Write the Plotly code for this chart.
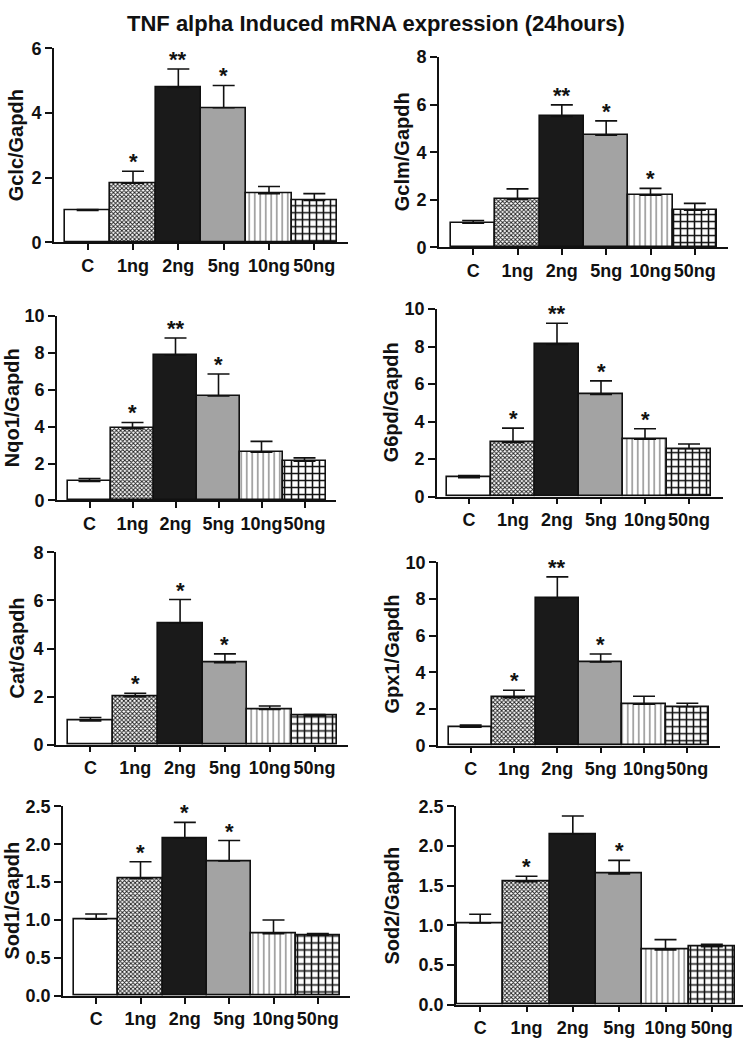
import plotly.graph_objects as go

# ---------------- data ----------------
categories = ["C", "1ng", "2ng", "5ng", "10ng", "50ng"]

gclc_mean = [0.99, 1.83, 4.79, 4.16, 1.51, 1.30]
gclc_err = [0.03, 0.37, 0.57, 0.69, 0.22, 0.21]
gclc_sig = ["", "*", "**", "*", "", ""]

gclm_mean = [1.02, 2.03, 5.50, 4.72, 2.19, 1.56]
gclm_err = [0.11, 0.43, 0.49, 0.60, 0.29, 0.29]
gclm_sig = ["", "", "**", "*", "*", ""]

nqo1_mean = [1.03, 3.91, 7.89, 5.67, 2.61, 2.13]
nqo1_err = [0.16, 0.32, 0.92, 1.19, 0.59, 0.18]
nqo1_sig = ["", "*", "**", "*", "", ""]

g6pd_mean = [1.01, 2.88, 8.11, 5.45, 3.06, 2.55]
g6pd_err = [0.11, 0.77, 1.14, 0.72, 0.56, 0.25]
g6pd_sig = ["", "*", "**", "*", "*", ""]

cat_mean = [0.99, 2.00, 5.05, 3.41, 1.47, 1.20]
cat_err = [0.14, 0.14, 0.99, 0.37, 0.14, 0.05]
cat_sig = ["", "*", "*", "*", "", ""]

gpx1_mean = [1.01, 2.62, 8.06, 4.56, 2.26, 2.12]
gpx1_err = [0.11, 0.40, 1.14, 0.44, 0.43, 0.19]
gpx1_sig = ["", "*", "**", "*", "", ""]

sod1_mean = [1.01, 1.55, 2.08, 1.78, 0.82, 0.80]
sod1_err = [0.07, 0.22, 0.21, 0.27, 0.18, 0.02]
sod1_sig = ["", "*", "*", "*", "", ""]

sod2_mean = [1.03, 1.55, 2.15, 1.65, 0.69, 0.73]
sod2_err = [0.11, 0.07, 0.23, 0.17, 0.13, 0.03]
sod2_sig = ["", "*", "", "*", "", ""]

panel_titles = ["Gclc/Gapdh", "Gclm/Gapdh", "Nqo1/Gapdh", "G6pd/Gapdh",
                "Cat/Gapdh", "Gpx1/Gapdh", "Sod1/Gapdh", "Sod2/Gapdh"]
panel_means = [gclc_mean, gclm_mean, nqo1_mean, g6pd_mean, cat_mean, gpx1_mean, sod1_mean, sod2_mean]
panel_errs = [gclc_err, gclm_err, nqo1_err, g6pd_err, cat_err, gpx1_err, sod1_err, sod2_err]
panel_sigs = [gclc_sig, gclm_sig, nqo1_sig, g6pd_sig, cat_sig, gpx1_sig, sod1_sig, sod2_sig]
panel_ymax = [6, 8, 10, 10, 8, 10, 2.5, 2.5]
panel_dtick = [2, 2, 2, 2, 2, 2, 0.5, 0.5]

# ---------------- styling / layout geometry (pixels) ----------------
W, H = 750, 1045
# axis_x, x_end, bar_left, bar_right, y_top, y_zero, title_x, title_y
geom = [
    (54, 348, 65, 337, 39, 237, 16, 138),
    (439, 728, 451, 717, 48, 242, 402, 145),
    (57, 336, 68, 326, 312, 500, 12, 406),
    (437, 723, 447, 711, 305, 496, 391, 400),
    (56, 348, 68, 337, 553, 749, 17, 651),
    (438, 720, 449, 709, 563, 750, 392, 656),
    (63, 350, 74, 340, 812, 1005, 12, 908),
    (456, 743, 457, 735, 812, 1014, 392, 913),
]

FONT = "Liberation Sans, Arial, Helvetica, sans-serif"
INK = "#111111"
# per category style: (fill colour, pattern shape, pattern size, solidity, pattern colour)
cat_style = [
    ("#ffffff", "", 8, 0.3, INK),
    ("#ffffff", "x", 3, 0.5, "#1a1a1a"),
    ("#1a1a1a", "", 8, 0.3, INK),
    ("#a3a3a3", "", 8, 0.3, INK),
    ("#ffffff", "|", 5.5, 0.2, "#666666"),
    ("#ffffff", "+", 7, 0.4, INK),
]

fig = go.Figure()
annotations = []

for i in range(8):
    ax_x, x_end, bl, br, y_top, y0, tx, ty = geom[i]
    bw = (br - bl) / len(categories)
    x_lo = -0.5 - (bl - ax_x) / bw
    x_hi = len(categories) - 0.5 + (x_end - br) / bw
    xa = "x" if i == 0 else f"x{i+1}"
    ya = "y" if i == 0 else f"y{i+1}"
    xkey = "xaxis" if i == 0 else f"xaxis{i+1}"
    ykey = "yaxis" if i == 0 else f"yaxis{i+1}"
    for j, cat in enumerate(categories):
        fill, shp, psz, sol, pfg = cat_style[j]
        marker = dict(color=fill, line=dict(color=INK, width=1.6))
        if shp:
            marker["pattern"] = dict(shape=shp, size=psz, solidity=sol,
                                     fgcolor=pfg, bgcolor=fill, fillmode="replace")
        fig.add_trace(go.Bar(
            x=[j], y=[panel_means[i][j]], width=1.0,
            xaxis=xa, yaxis=ya, marker=marker,
            error_y=dict(type="data", array=[panel_errs[i][j]], arrayminus=[0],
                         symmetric=False, color=INK, thickness=1.6, width=11),
            showlegend=False, hoverinfo="skip",
        ))
        s = panel_sigs[i][j]
        if s:
            annotations.append(dict(
                text=s, x=j, y=panel_means[i][j] + panel_errs[i][j], xref=xa, yref=ya,
                xanchor="center", yanchor="bottom", showarrow=False, yshift=-5,
                font=dict(family=FONT, size=22, color=INK, weight="bold"),
            ))
    fmt = ".1f" if panel_dtick[i] < 1 else "d"
    fig.layout[xkey] = dict(
        domain=[ax_x / W, x_end / W], range=[x_lo, x_hi], anchor=ya,
        tickmode="array", tickvals=list(range(len(categories))), ticktext=categories,
        tickangle=0,
        showline=True, linecolor=INK, linewidth=1.6,
        ticks="outside", ticklen=6, tickwidth=1.6, tickcolor=INK,
        showgrid=False, zeroline=False, fixedrange=True,
        tickfont=dict(family=FONT, size=18, color=INK, weight="bold"),
    )
    fig.layout[ykey] = dict(
        domain=[(H - y0) / H, (H - y_top) / H], range=[0, panel_ymax[i]], anchor=xa,
        dtick=panel_dtick[i], tick0=0, tickformat=fmt,
        showline=True, linecolor=INK, linewidth=1.6,
        ticks="outside", ticklen=7, tickwidth=1.6, tickcolor=INK,
        showgrid=False, zeroline=False, fixedrange=True,
        tickfont=dict(family=FONT, size=18, color=INK, weight="bold"),
    )
    annotations.append(dict(
        text=panel_titles[i], x=tx / W, y=(H - ty) / H, xref="paper", yref="paper",
        xanchor="center", yanchor="middle", textangle=-90, showarrow=False,
        font=dict(family=FONT, size=20, color=INK, weight="bold"),
    ))

annotations.append(dict(
    text="TNF alpha Induced mRNA expression (24hours)", x=376 / W, y=(H - 14) / H,
    xref="paper", yref="paper", xanchor="center", yanchor="middle", showarrow=False,
    font=dict(family=FONT, size=22, color=INK, weight="bold"),
))

fig.update_layout(
    width=W, height=H, margin=dict(l=0, r=0, t=0, b=0),
    paper_bgcolor="white", plot_bgcolor="white",
    barmode="overlay", bargap=0, annotations=annotations,
)

fig.write_html("out.html", config={"displayModeBar": False},
               post_script="document.body.style.margin='0';")
